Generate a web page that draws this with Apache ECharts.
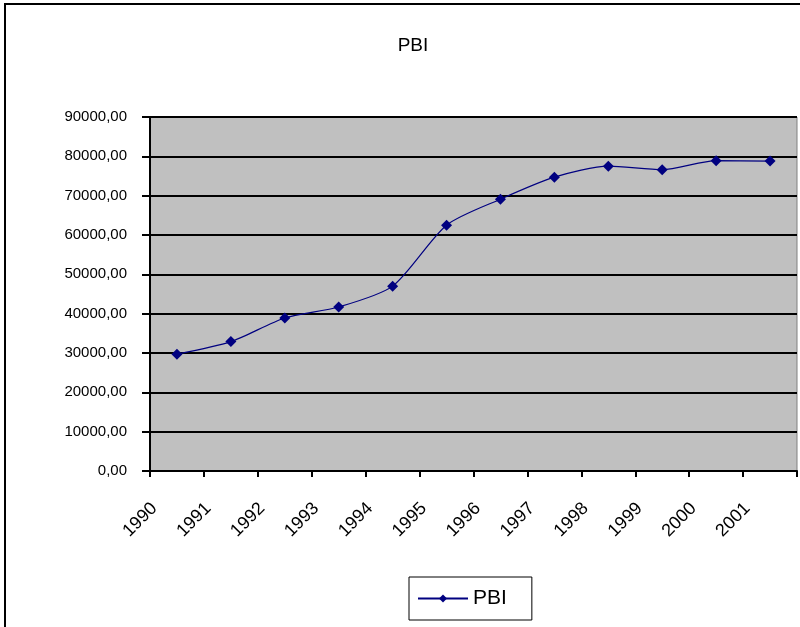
<!DOCTYPE html>
<html>
<head>
<meta charset="utf-8">
<script src="https://cdn.jsdelivr.net/npm/echarts@6/dist/echarts.min.js"></script>
<style>
  html, body { margin: 0; padding: 0; background: #fff; }
  #chart { width: 800px; height: 627px; }
</style>
</head>
<body>
<div id="chart"></div>
<script>
// datos
const years = ['1990', '1991', '1992', '1993', '1994', '1995', '1996', '1997', '1998', '1999', '2000', '2001'];
const pbi = [29700, 32900, 38900, 41700, 47000, 62500, 69100, 74700, 77500, 76600, 78900, 78800];
const seriesName = 'PBI';
const yMin = 0, yMax = 90000, yStep = 10000;

const chart = echarts.init(document.getElementById('chart'));
const font = 'Liberation Sans, Arial, sans-serif';

chart.setOption({
  animation: false,
  textStyle: { fontFamily: font },
  title: {
    text: 'PBI',
    left: 408, top: 31,
    textAlign: 'center',
    textStyle: { fontSize: 19, fontWeight: 'normal', color: '#000', fontFamily: font }
  },
  graphic: [{
    type: 'rect',
    shape: { x: 5, y: 4, width: 820, height: 650 },
    style: { fill: 'none', stroke: '#000', lineWidth: 2 },
    silent: true
  }],
  legend: {
    data: [seriesName],
    left: 409, top: 577,
    padding: [11, 25, 11, 8],
    borderColor: '#000', borderWidth: 1,
    itemWidth: 50, itemHeight: 10,
    itemGap: 10,
    textStyle: { fontSize: 21, color: '#000', fontFamily: font }
  },
  grid: {
    left: 150, right: 3, top: 117, bottom: 156,
    show: true,
    backgroundColor: '#C0C0C0',
    borderColor: '#808080', borderWidth: 1
  },
  xAxis: {
    type: 'category',
    data: years,
    boundaryGap: true,
    axisLine: { lineStyle: { color: '#000', width: 2 } },
    axisTick: { show: true, length: 6, lineStyle: { color: '#000', width: 2 } },
    axisLabel: {
      rotate: 45, fontSize: 18, color: '#000', margin: 12, fontFamily: font,
      padding: [0, 32, 0, 0]
    }
  },
  yAxis: {
    type: 'value',
    min: yMin, max: yMax, interval: yStep,
    axisLine: { show: true, lineStyle: { color: '#000', width: 2 } },
    axisTick: { show: true, length: 8, lineStyle: { color: '#000', width: 2 } },
    axisLabel: {
      fontSize: 15, color: '#000', margin: 23, fontFamily: font,
      formatter: v => v.toFixed(2).replace('.', ',')
    },
    splitLine: { show: true, lineStyle: { color: '#000', width: 2 } }
  },
  series: [{
    name: seriesName,
    type: 'line',
    data: pbi,
    smooth: 0.25,
    symbol: 'diamond',
    symbolSize: 11,
    itemStyle: { color: '#000080' },
    lineStyle: { color: '#000080', width: 1.2 }
  }]
});
</script>
</body>
</html>
